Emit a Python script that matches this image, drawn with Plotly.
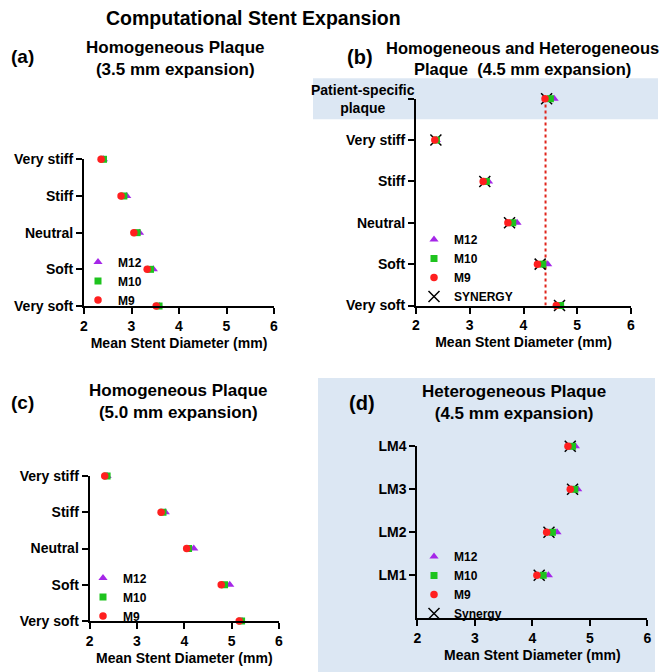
import plotly.graph_objects as go

# ---------------- data ----------------
a_categories = ["Very stiff", "Stiff", "Neutral", "Soft", "Very soft"]
a_M9 = [2.36, 2.78, 3.05, 3.33, 3.52]
a_M10 = [2.41, 2.84, 3.12, 3.40, 3.58]
a_M12 = [2.41, 2.90, 3.17, 3.46, 3.59]

b_categories = ["Patient-specific plaque", "Very stiff", "Stiff", "Neutral", "Soft", "Very soft"]
b_M9 = [4.40, 2.35, 3.25, 3.71, 4.26, 4.61]
b_M10 = [4.50, 2.38, 3.31, 3.80, 4.36, 4.69]
b_M12 = [4.57, 2.38, 3.35, 3.88, 4.45, 4.70]
b_SYNERGY = [4.43, 2.37, 3.28, 3.74, 4.31, 4.67]
b_reference_line = 4.41

c_categories = ["Very stiff", "Stiff", "Neutral", "Soft", "Very soft"]
c_M9 = [2.32, 3.51, 4.05, 4.78, 5.16]
c_M10 = [2.37, 3.55, 4.09, 4.85, 5.21]
c_M12 = [2.37, 3.60, 4.20, 4.96, 5.22]

d_categories = ["LM4", "LM3", "LM2", "LM1"]
d_M9 = [4.62, 4.66, 4.25, 4.08]
d_M10 = [4.70, 4.74, 4.35, 4.19]
d_M12 = [4.75, 4.79, 4.43, 4.28]
d_Synergy = [4.66, 4.70, 4.29, 4.12]

x_ticks = [2, 3, 4, 5, 6]
x_title = "Mean Stent Diameter (mm)"

# ---------------- style ----------------
OFF = 8  # page body margin
W, H = 669 - OFF, 672 - OFF
FONT = "Liberation Sans, Arial, Helvetica, sans-serif"
RED = "#ff1f1f"
GREEN = "#1ec31e"
PURPLE = "#a526e8"
BLUE_BG = "#dce7f3"


def px(x):
    return (x - OFF) / W


def py(y):
    return 1 - (y - OFF) / H


fig = go.Figure()


def add_series(xs, ys, name, symbol, color, size, axis, legend, rank, line=None):
    marker = dict(symbol=symbol, color=color, size=size)
    if line:
        marker["line"] = line
    fig.add_trace(go.Scatter(
        x=xs, y=ys, mode="markers", name=name, marker=marker,
        xaxis="x" + axis, yaxis="y" + axis, legend=legend, legendrank=rank,
        cliponaxis=False, hoverinfo="x+y+name",
    ))


def add_panel(axis, legend, cats, m9, m10, m12, syn=None, syn_name=None):
    if syn is not None:
        add_series(syn, cats, syn_name, "x-thin-open", "black", 11, axis, legend, 4,
                   line=dict(color="black", width=1.5))
    add_series(m12, cats, "M12", "triangle-up", PURPLE, 8, axis, legend, 1)
    add_series(m10, cats, "M10", "square", GREEN, 7, axis, legend, 2)
    add_series(m9, cats, "M9", "circle", RED, 7.5, axis, legend, 3)


# reference dotted line in (b)
fig.add_trace(go.Scatter(
    x=[b_reference_line, b_reference_line], y=[b_categories[-1], b_categories[0]],
    mode="lines", line=dict(color="#e0241b", width=2, dash="dot"),
    xaxis="x2", yaxis="y2", showlegend=False, hoverinfo="skip",
))

add_panel("", "legend", a_categories, a_M9, a_M10, a_M12)
add_panel("2", "legend2", b_categories, b_M9, b_M10, b_M12, b_SYNERGY, "SYNERGY")
add_panel("3", "legend3", c_categories, c_M9, c_M10, c_M12)
add_panel("4", "legend4", d_categories, d_M9, d_M10, d_M12, d_Synergy, "Synergy")

tickfont = dict(family=FONT, size=14, color="black", weight="bold")


def xaxis(domain, anchor):
    return dict(domain=domain, anchor=anchor, range=[2, 6], tickmode="array",
                tickvals=x_ticks, showline=True, linewidth=2, linecolor="black",
                ticks="outside", ticklen=6, tickwidth=2, tickcolor="black",
                showgrid=False, zeroline=False, tickfont=tickfont, automargin=False,
                title=dict(text=x_title, font=tickfont, standoff=5))


def yaxis(domain, anchor, cats, rng, ticktext=None):
    order = list(reversed(cats))
    d = dict(domain=domain, anchor=anchor, type="category",
             categoryorder="array", categoryarray=order, range=rng,
             showline=True, linewidth=2, linecolor="black",
             ticks="outside", ticklen=6, tickwidth=2, tickcolor="black",
             showgrid=False, zeroline=False, tickfont=tickfont, automargin=False)
    if ticktext is not None:
        d.update(tickmode="array", tickvals=order, ticktext=ticktext)
    return d


b_ticktext = ["" if c == "Patient-specific plaque" else c for c in reversed(b_categories)]

fig.update_layout(
    width=W, height=H, autosize=False,
    margin=dict(l=0, r=0, t=0, b=0, autoexpand=False),
    paper_bgcolor="white", plot_bgcolor="rgba(0,0,0,0)",
    font=dict(family=FONT, color="black"),
    xaxis=xaxis([px(84), px(274)], "y"),
    yaxis=yaxis([py(306), py(159.3)], "x", a_categories, [0, 4]),
    xaxis2=xaxis([px(416), px(631)], "y2"),
    yaxis2=yaxis([py(305.5), py(98.7)], "x2", b_categories, [0, 5], b_ticktext),
    xaxis3=xaxis([px(89.6), px(279)], "y3"),
    yaxis3=yaxis([py(621), py(476)], "x3", c_categories, [0, 4]),
    xaxis4=xaxis([px(417.3), px(647.3)], "y4"),
    yaxis4=yaxis([py(618.3), py(446.3)], "x4", d_categories, [-1, 3]),
)

legend_font = dict(family=FONT, size=12, color="black", weight="bold")


def legend(x, y):
    return dict(x=px(x), y=py(y), xanchor="left", yanchor="middle",
                bgcolor="rgba(0,0,0,0)", borderwidth=0, font=legend_font,
                traceorder="normal", itemclick=False)


fig.update_layout(
    legend=legend(78, 281),
    legend2=legend(414, 268),
    legend3=legend(83, 597),
    legend4=legend(414, 585),
)

# background shapes
fig.add_shape(type="rect", xref="paper", yref="paper", layer="below",
              x0=px(313), x1=px(658), y0=py(119.3), y1=py(78.3),
              fillcolor=BLUE_BG, line=dict(width=0))
fig.add_shape(type="rect", xref="paper", yref="paper", layer="below",
              x0=px(318), x1=px(655), y0=py(672), y1=py(378),
              fillcolor=BLUE_BG, line=dict(width=0))

annotations = [
    dict(text="Computational Stent Expansion", x=253, y=18, size=19.5, anchor="center"),
    dict(text="(a)", x=9, y=56, size=19, anchor="left"),
    dict(text="Homogeneous Plaque<br>(3.5 mm expansion)", x=175, y=59, size=17, anchor="center"),
    dict(text="(b)", x=360, y=57, size=20, anchor="center"),
    dict(text="Homogeneous and Heterogeneous<br>Plaque  (4.5 mm expansion)", x=522, y=59, size=16.5, anchor="center"),
    dict(text="(c)", x=9, y=402, size=19, anchor="left"),
    dict(text="Homogeneous Plaque<br>(5.0 mm expansion)", x=178, y=401, size=17, anchor="center"),
    dict(text="(d)", x=362, y=403, size=20, anchor="center"),
    dict(text="Heterogeneous Plaque<br>(4.5 mm expansion)", x=514, y=402, size=17, anchor="center"),
    dict(text="Patient-specific<br>plaque", x=363, y=99, size=14, anchor="center"),
]
for a in annotations:
    fig.add_annotation(text=a["text"], x=px(a["x"]), y=py(a["y"]), xref="paper", yref="paper",
                       xanchor=a["anchor"], yanchor="middle", align="center",
                       showarrow=False,
                       font=dict(family=FONT, size=a["size"], color="black", weight="bold"))

fig.write_html("out.html")
